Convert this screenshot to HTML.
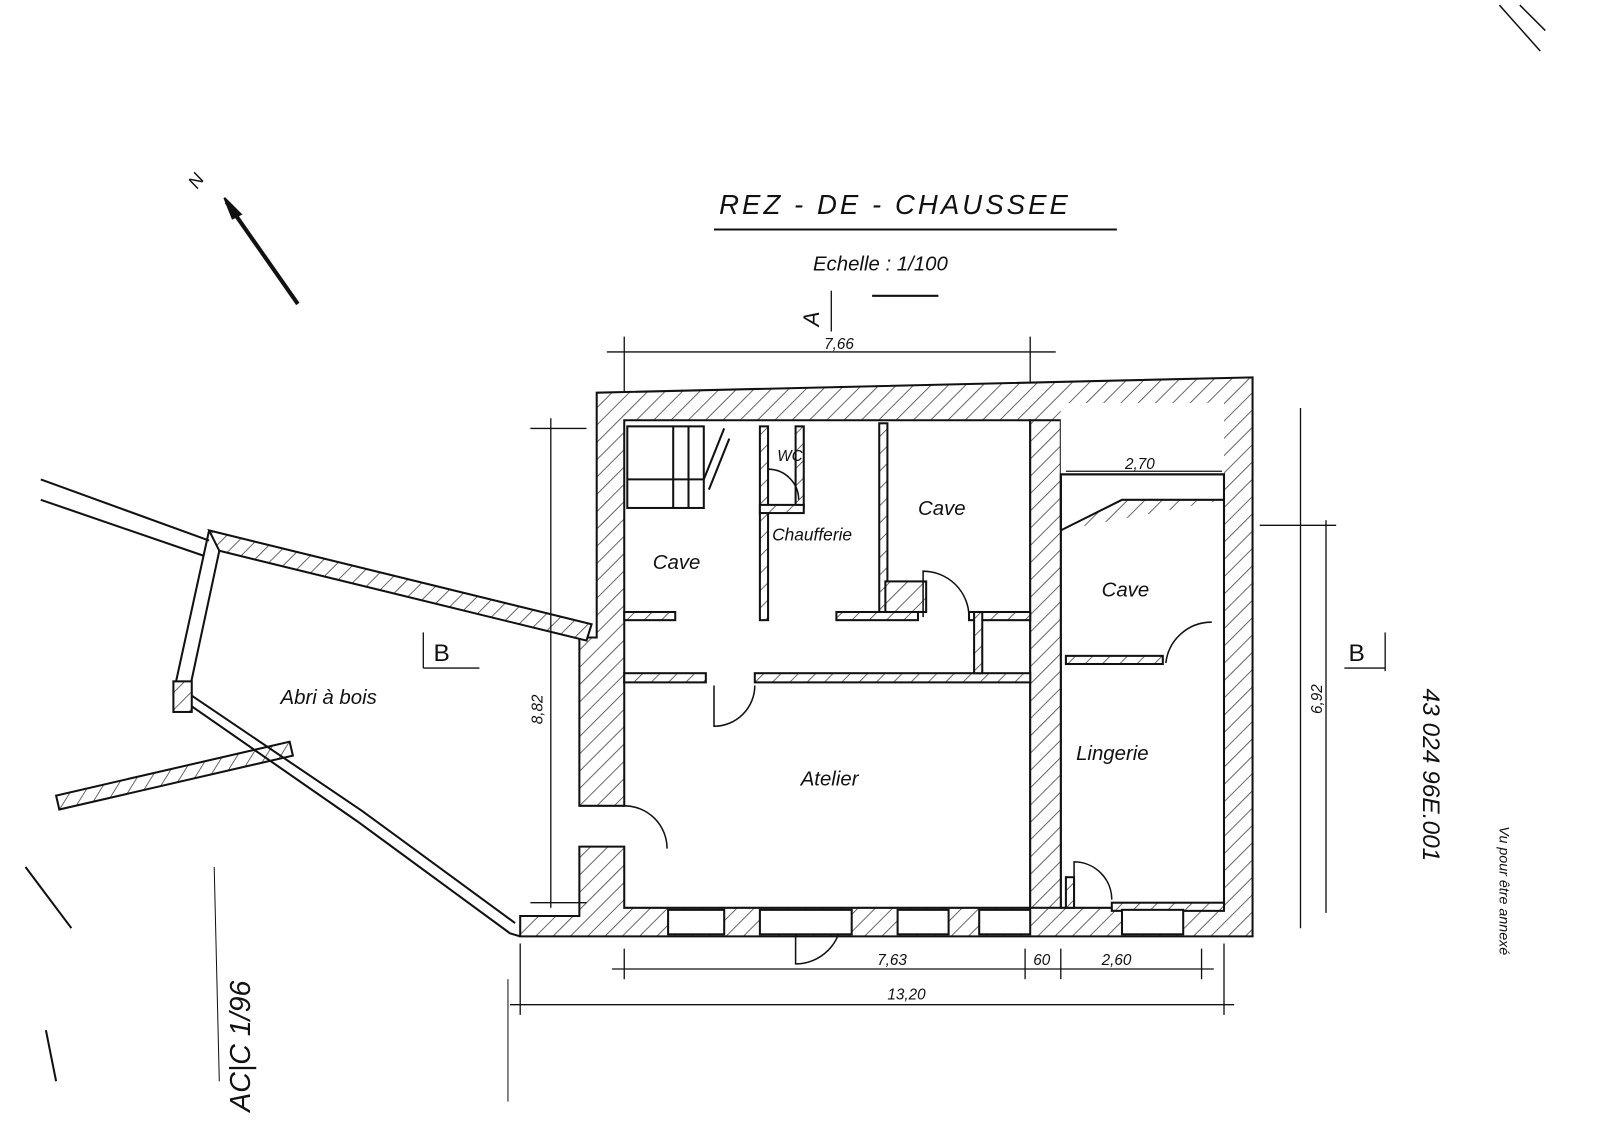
<!DOCTYPE html>
<html><head><meta charset="utf-8"><style>
html,body{margin:0;padding:0;background:#fff;}
svg{display:block}
text{font-family:"Liberation Sans",sans-serif;font-style:italic;fill:#111}
</style></head><body>
<svg width="1600" height="1128" viewBox="0 0 1600 1128" xmlns="http://www.w3.org/2000/svg">
<defs>
<pattern id="h" width="12" height="12" patternUnits="userSpaceOnUse" patternTransform="rotate(45)">
<rect width="12" height="12" fill="#fff"/><line x1="0" y1="0" x2="0" y2="12" stroke="#444" stroke-width="1.6"/>
</pattern>
</defs>
<g transform="scale(1.02)" stroke="#111" fill="none" stroke-width="2">
<line x1="1470" y1="5" x2="1510" y2="50" stroke-width="1.5"/>
<line x1="1490" y1="5" x2="1515" y2="30" stroke-width="1.5"/>
<line x1="40" y1="470" x2="205" y2="530"/>
<line x1="40" y1="490" x2="200" y2="545"/>
<rect x="55" y="780" width="235" height="14" transform="rotate(-13 55 780)" fill="url(#h)"/>
<line x1="25" y1="850" x2="70" y2="910"/>
<line x1="45" y1="1010" x2="55" y2="1060"/>
<line x1="210" y1="850" x2="215" y2="1060" stroke-width="1"/>
<line x1="498" y1="960" x2="498" y2="1080" stroke-width="1"/>
<text x="705" y="210" font-size="27" stroke="none" letter-spacing="3">REZ - DE - CHAUSSEE</text>
<line x1="700" y1="225" x2="1095" y2="225"/>
<text x="797" y="265" font-size="20" stroke="none">Echelle : 1/100</text>
<line x1="855" y1="290" x2="920" y2="290"/>
<line x1="292" y1="298" x2="222" y2="198" stroke-width="4"/>
<polygon points="220,194 236,210 228,214" fill="#111"/>
<text x="185" y="180" font-size="18" stroke="none" transform="rotate(-55 195 175)">N</text>
<path fill-rule="evenodd" fill="url(#h)" d="M585,385 L1228,370 L1228,918 L510,918 L510,898 L568,898 L568,830 L612,830 L612,890 L1010,890 L1010,412 L612,412 L612,790 L568,790 L568,625 L585,625 Z M1040,465 L1040,890 L1200,890 L1200,465 Z"/>
<rect x="1010" y="412" width="30" height="478" fill="url(#h)"/>
<rect x="1040" y="395" width="160" height="70" fill="#fff" stroke="none"/>
<path d="M1040,520 L1040,465 L1200,465 L1200,520" />
<path d="M1040,520 L1100,490 L1200,490" fill="url(#h)"/>
<path fill="url(#h)" d="M205,520 L580,612 L575,628 L215,540 Z"/>
<path d="M205,520 L170,680 L350,805 L500,915 L510,918"/>
<path d="M215,540 L185,680 L355,795 L505,905"/>
<rect x="170" y="668" width="18" height="30" fill="url(#h)"/>
<g fill="url(#h)">
<rect x="612" y="660" width="80" height="9"/>
<rect x="740" y="660" width="270" height="9"/>
<rect x="745" y="418" width="8" height="190"/>
<rect x="780" y="418" width="8" height="80"/>
<rect x="745" y="495" width="43" height="8"/>
<rect x="862" y="415" width="8" height="190"/>
<rect x="820" y="600" width="80" height="8"/>
<rect x="950" y="600" width="60" height="8"/>
<rect x="955" y="600" width="8" height="60"/>
<rect x="868" y="570" width="40" height="30"/>
<rect x="1045" y="643" width="95" height="8"/>
<rect x="612" y="600" width="50" height="8"/>
<rect x="1045" y="860" width="8" height="30"/>
<rect x="1090" y="885" width="110" height="8"/>
</g>
<rect x="615" y="418" width="75" height="80"/>
<line x1="660" y1="418" x2="660" y2="498"/><line x1="675" y1="418" x2="675" y2="498"/>
<line x1="615" y1="470" x2="690" y2="470"/>
<line x1="690" y1="470" x2="710" y2="420"/><line x1="695" y1="480" x2="715" y2="430"/>
<path d="M700,672 L700,712 A40,40 0 0 0 740,672" stroke-width="1.5"/>
<path d="M612,790 A42,42 0 0 1 654,832" stroke-width="1.5"/>
<path d="M780,900 L780,945 A45,45 0 0 0 825,900" stroke-width="1.5"/>
<path d="M905,605 L905,560 A45,45 0 0 1 950,605" stroke-width="1.5"/>
<path d="M1053,890 L1053,845 A37,37 0 0 1 1090,882" stroke-width="1.5"/>
<path d="M1188,610 A45,45 0 0 0 1143,650" stroke-width="1.5"/>
<path d="M753,460 A30,30 0 0 1 783,490" stroke-width="1.5"/>
<g fill="#fff">
<rect x="655" y="892" width="55" height="24"/><rect x="745" y="892" width="90" height="24"/>
<rect x="880" y="892" width="50" height="24"/><rect x="960" y="892" width="50" height="24"/>
<rect x="1100" y="892" width="60" height="24"/>
</g>
<g stroke-width="1.3">
<line x1="595" y1="345" x2="1035" y2="345"/><line x1="612" y1="330" x2="612" y2="385"/><line x1="1010" y1="330" x2="1010" y2="375"/>
<line x1="1045" y1="462" x2="1198" y2="462"/>
<line x1="540" y1="410" x2="540" y2="890"/><line x1="520" y1="420" x2="575" y2="420"/><line x1="520" y1="885" x2="575" y2="885"/>
<line x1="1300" y1="510" x2="1300" y2="895"/><line x1="1235" y1="515" x2="1310" y2="515"/>
<line x1="600" y1="950" x2="1190" y2="950"/><line x1="612" y1="930" x2="612" y2="960"/><line x1="1005" y1="930" x2="1005" y2="960"/><line x1="1040" y1="930" x2="1040" y2="960"/><line x1="1178" y1="930" x2="1178" y2="960"/>
<line x1="500" y1="985" x2="1210" y2="985"/><line x1="510" y1="925" x2="510" y2="995"/><line x1="1200" y1="925" x2="1200" y2="995"/>
<line x1="1275" y1="400" x2="1275" y2="910"/>
<line x1="815" y1="285" x2="815" y2="325"/><line x1="1358" y1="620" x2="1358" y2="658"/><line x1="1318" y1="655" x2="1358" y2="655"/>
<line x1="415" y1="620" x2="415" y2="655"/><line x1="415" y1="655" x2="470" y2="655"/>
</g>
</g>
<g transform="scale(1.02)" font-size="20">
<text x="808" y="342" font-size="15">7,66</text>
<text x="1103" y="460" font-size="15">2,70</text>
<text x="532" y="710" font-size="15" transform="rotate(-90 532 710)">8,82</text>
<text x="1296" y="700" font-size="15" transform="rotate(-90 1296 700)">6,92</text>
<text x="860" y="946" font-size="15">7,63</text>
<text x="1013" y="946" font-size="15">60</text>
<text x="1080" y="946" font-size="15">2,60</text>
<text x="870" y="980" font-size="15">13,20</text>
<text x="785" y="318" font-size="22" transform="rotate(-90 795 310)">A</text>
<text x="425" y="648" font-size="24" style="font-style:normal">B</text>
<text x="1322" y="648" font-size="24" style="font-style:normal">B</text>
<text x="762" y="452" font-size="15">WC</text>
<text x="640" y="558">Cave</text>
<text x="757" y="530" font-size="17">Chaufferie</text>
<text x="900" y="505">Cave</text>
<text x="1080" y="585">Cave</text>
<text x="275" y="690">Abri  à  bois</text>
<text x="785" y="770">Atelier</text>
<text x="1055" y="745">Lingerie</text>
<text x="1395" y="675" font-size="24" transform="rotate(90 1395 675)">43 024 96E.001</text>
<text x="1470" y="810" font-size="14" transform="rotate(90 1470 810)">Vu pour être annexé</text>
<text x="245" y="1090" font-size="28" transform="rotate(-90 245 1090)">AC|C 1/96</text>
</g>
</svg>
</body></html>
